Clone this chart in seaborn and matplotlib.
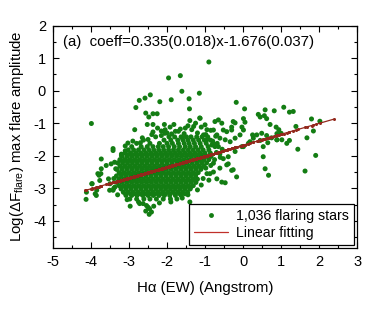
import numpy as np
import pandas as pd
import matplotlib
matplotlib.use("Agg")
import matplotlib.pyplot as plt
from matplotlib.lines import Line2D
import seaborn as sns

# ---------------- data ----------------
# dense core, row by row: one y level per row, x positions per row
core_row_y = [-1.42, -1.52, -1.62, -1.72, -1.82, -1.92, -2.02, -2.12, -2.22, -2.32,
              -2.42, -2.52, -2.62, -2.72, -2.82, -2.92, -3.02, -3.12, -3.22, -3.33,
              -1.97, -2.17, -2.37, -2.57, -2.77, -2.97, -3.17]
core_row_x = [
    [-2.30, -1.95, -1.80, -1.63, -1.49, -1.37, -1.22, -1.08, -0.93],
    [-2.62, -2.08, -1.90, -1.72, -1.58, -1.45, -1.31, -1.17, -1.02, -0.86],
    [-2.80, -2.45, -2.20, -2.00, -1.86, -1.70, -1.55, -1.42, -1.28, -1.13, -0.97, -0.79],
    [-2.93, -2.68, -2.52, -2.37, -2.23, -2.10, -1.96, -1.81, -1.67, -1.52, -1.39, -1.25, -1.10, -0.92, -0.74],
    [-3.02, -2.88, -2.75, -2.61, -2.48, -2.35, -2.22, -2.09, -1.96, -1.83, -1.70, -1.57, -1.44, -1.31, -1.18, -1.05, -0.90],
    [-3.10, -2.96, -2.82, -2.69, -2.56, -2.43, -2.30, -2.17, -2.04, -1.91, -1.78, -1.65, -1.52, -1.39, -1.26, -1.13, -1.00, -0.86],
    [-3.18, -3.05, -2.92, -2.79, -2.66, -2.53, -2.40, -2.27, -2.14, -2.01, -1.88, -1.75, -1.62, -1.49, -1.36, -1.23, -1.10, -0.97, -0.84],
    [-3.24, -3.11, -2.98, -2.85, -2.72, -2.59, -2.46, -2.33, -2.20, -2.07, -1.94, -1.81, -1.68, -1.55, -1.42, -1.29, -1.16, -1.03, -0.90],
    [-3.30, -3.17, -3.04, -2.91, -2.78, -2.65, -2.52, -2.39, -2.26, -2.13, -2.00, -1.87, -1.74, -1.61, -1.48, -1.35, -1.22, -1.09, -0.96],
    [-3.24, -3.11, -2.98, -2.85, -2.72, -2.59, -2.46, -2.33, -2.20, -2.07, -1.94, -1.81, -1.68, -1.55, -1.42, -1.29, -1.16, -1.03],
    [-3.32, -3.19, -3.06, -2.93, -2.80, -2.67, -2.54, -2.41, -2.28, -2.15, -2.02, -1.89, -1.76, -1.63, -1.50, -1.37, -1.24, -1.11],
    [-3.26, -3.13, -3.00, -2.87, -2.74, -2.61, -2.48, -2.35, -2.22, -2.09, -1.96, -1.83, -1.70, -1.57, -1.44, -1.31, -1.18],
    [-3.33, -3.20, -3.07, -2.94, -2.81, -2.68, -2.55, -2.42, -2.29, -2.16, -2.03, -1.90, -1.77, -1.64, -1.51, -1.38, -1.25],
    [-3.27, -3.14, -3.01, -2.88, -2.75, -2.62, -2.49, -2.36, -2.23, -2.10, -1.97, -1.84, -1.71, -1.58, -1.45, -1.32, -1.20],
    [-3.32, -3.19, -3.06, -2.93, -2.80, -2.67, -2.54, -2.41, -2.28, -2.15, -2.02, -1.89, -1.76, -1.63, -1.50, -1.37, -1.24],
    [-3.26, -3.13, -3.00, -2.87, -2.74, -2.61, -2.48, -2.35, -2.22, -2.09, -1.96, -1.83, -1.70, -1.57, -1.44, -1.31],
    [-3.21, -3.08, -2.95, -2.82, -2.69, -2.56, -2.43, -2.30, -2.17, -2.04, -1.91, -1.78, -1.65, -1.52, -1.39],
    [-3.15, -3.02, -2.89, -2.76, -2.63, -2.50, -2.37, -2.24, -2.11, -1.98, -1.85, -1.72, -1.59, -1.46],
    [-3.08, -2.93, -2.79, -2.64, -2.50, -2.36, -2.21, -2.07, -1.93, -1.78, -1.63],
    [-2.98, -2.80, -2.61, -2.45, -2.28, -2.10, -1.91, -1.74],
    [-3.03, -2.90, -2.77, -2.64, -2.51, -2.38, -2.25, -2.12, -1.99, -1.86, -1.73, -1.60, -1.47, -1.34, -1.21, -1.08],
    [-3.17, -3.04, -2.91, -2.78, -2.65, -2.52, -2.39, -2.26, -2.13, -2.00, -1.87, -1.74, -1.61, -1.48, -1.35, -1.22, -1.09],
    [-3.18, -3.05, -2.92, -2.79, -2.66, -2.53, -2.40, -2.27, -2.14, -2.01, -1.88, -1.75, -1.62, -1.49, -1.36, -1.23, -1.10],
    [-3.20, -3.07, -2.94, -2.81, -2.68, -2.55, -2.42, -2.29, -2.16, -2.03, -1.90, -1.77, -1.64, -1.51, -1.38, -1.25],
    [-3.21, -3.08, -2.95, -2.82, -2.69, -2.56, -2.43, -2.30, -2.17, -2.04, -1.91, -1.78, -1.65, -1.52, -1.39, -1.26],
    [-3.20, -3.07, -2.94, -2.81, -2.68, -2.55, -2.42, -2.29, -2.16, -2.03, -1.90, -1.77, -1.64, -1.51, -1.38],
    [-3.09, -2.96, -2.83, -2.70, -2.57, -2.44, -2.31, -2.18, -2.05, -1.92, -1.79, -1.66, -1.53],
]

# scattered stars outside the dense core
halo_x = [-3.99, -1.96, -1.65, -1.61, -1.15, -0.90, -2.44, -2.58, -2.73, -2.19,
          -1.89, -1.42, -2.82, -1.41, -2.56, -2.37, -2.26, -2.48, -1.14, -1.40,
          -2.37, -2.52, -2.07, -1.82, -2.85, -2.37, -2.15, -2.06, -3.03, -3.42,
          -0.18, 0.04, 0.40, 0.58, 0.82, 1.07, 1.32, 1.22, 1.80, 2.02,
          1.39, 1.85, 1.44, 1.91, 1.63, 0.58, 0.67, -0.17, 0.45, 0.56,
          0.62, 0.71, 0.87, 0.94, 1.00, 0.89, 1.68, 1.02, 1.22, 0.01,
          0.05, -0.03, -0.21, -0.30, 0.25, 0.36, 0.49, 0.62, 0.75, 0.89,
          0.45, 0.65, -4.13, -3.74, -3.79, -3.98, -3.85, -3.89, -3.50, -3.54,
          -3.37, -4.12, -3.97, -3.86, -3.77, -3.73, -3.82, -3.60, -3.38, -3.47,
          -3.42, -3.73, -3.51, -3.42, -2.63, -2.54, -2.46, -2.41, -2.47, -2.56,
          -2.50, -2.97, -2.72, -1.40, -0.87, -0.69, -0.56, -0.47, -0.30, -0.39,
          -0.52, -0.61, -0.78, -0.98, -1.13, -1.00, -0.74, -0.65, -0.56, -0.52,
          -0.43, -0.30, -0.26, -0.78, -0.69, -0.61, -0.47, -0.34, -1.04, -0.96,
          -0.82, -0.65, 0.01, 0.18, 0.27, -0.21, -0.08, 0.01, -0.78, -0.61,
          -0.43, -0.26, -0.39, -0.21, -0.03, 0.14, 0.53, 0.89, 1.15, 0.53,
          -1.70, -1.52, -1.30, -2.00, -2.65, -2.90, -3.20, -3.10, -1.25, -0.95,
          -2.25, -2.05, -1.92, -1.78, -1.65, -1.55, -1.45, -1.35, -1.20, -1.10,
          -0.98, -0.85, -0.72, -2.40, -2.15, -1.88, -1.60, -0.80, -0.68, -0.55,
          -0.70, -0.60, -0.75, -0.85, -0.95, -1.05, -1.10, -0.90, -1.20, -2.50,
          -2.70, -3.10, -3.20, -3.35, -3.40, -3.40, -3.30, -3.05, -2.75, -2.20,
          -1.90, -1.60, -1.45, -2.35]
halo_y = [-1.01, 0.39, 0.46, -0.02, -0.08, 0.88, -0.13, -0.23, -0.30, -0.34,
          -0.28, -0.25, -0.52, -0.56, -0.69, -0.71, -0.71, -0.81, -0.84, -0.92,
          -1.04, -1.04, -1.04, -1.04, -1.20, -1.27, -1.24, -1.31, -1.61, -1.78,
          -0.36, -0.56, -0.73, -0.59, -0.62, -0.51, -0.64, -0.66, -0.87, -0.94,
          -1.10, -1.24, -1.80, -1.99, -2.47, -2.40, -2.60, -2.65, -0.81, -0.77,
          -0.86, -1.04, -1.12, -1.20, -1.31, -1.32, -1.45, -1.51, -1.53, -0.86,
          -0.97, -1.12, -0.99, -1.12, -1.36, -1.36, -1.31, -1.38, -1.45, -1.51,
          -1.53, -1.60, -3.34, -2.55, -2.60, -2.86, -3.06, -3.17, -2.86, -2.71,
          -2.96, -3.12, -2.86, -3.22, -2.76, -2.40, -2.55, -2.30, -2.20, -2.25,
          -1.84, -2.10, -3.06, -3.06, -3.47, -3.53, -3.63, -3.73, -3.80, -3.70,
          -3.58, -3.55, -3.47, -3.42, -2.55, -2.71, -2.81, -2.83, -2.45, -2.25,
          -2.09, -1.94, -2.50, -2.38, -0.85, -1.05, -0.95, -0.90, -1.00, -1.21,
          -1.26, -1.21, -0.95, -1.21, -1.36, -1.46, -1.51, -1.57, -1.36, -1.51,
          -1.67, -1.72, -1.72, -1.57, -1.46, -1.46, -1.36, -1.21, -2.23, -2.38,
          -2.28, -2.43, -2.03, -1.87, -1.72, -1.62, -1.72, -1.51, -1.62, -2.03,
          -1.25, -1.15, -1.10, -1.30, -1.45, -1.55, -1.95, -1.70, -1.00, -1.20,
          -1.15, -1.20, -1.12, -1.25, -1.18, -1.32, -1.08, -1.20, -1.30, -1.12,
          -1.35, -1.22, -1.40, -1.35, -1.38, -1.33, -1.45, -1.55, -1.62, -1.80,
          -1.90, -2.05, -2.12, -2.30, -2.55, -2.70, -2.90, -2.75, -3.05, -1.50,
          -1.60, -1.85, -2.00, -2.40, -2.70, -3.00, -3.20, -3.35, -3.42, -3.45,
          -3.42, -3.30, -3.20, -3.55]

# linear fit reported in the panel
fit_slope = 0.335
fit_intercept = -1.676
fit_x_range = [-4.15, 2.38]

xticks = [-5, -4, -3, -2, -1, 0, 1, 2, 3]
yticks = [-4, -3, -2, -1, 0, 1, 2]

panel_text = "(a)  coeff=0.335(0.018)x-1.676(0.037)"
scatter_label = "1,036 flaring stars"
line_label = "Linear fitting"
xlabel = "H\u03b1 (EW) (Angstrom)"
ylabel = "Log(\u0394F$_{\\rm flare}$) max flare amplitude"

GREEN = "#137d13"
RED_LINE = "#93281c"
RED_LEG = "#c0302a"

# ---------------- assemble ----------------
xs, ys = [], []
for yv, row in zip(core_row_y, core_row_x):
    xs.extend(row)
    ys.extend([yv] * len(row))
xs.extend(halo_x)
ys.extend(halo_y)
df = pd.DataFrame({"x": xs, "y": ys})

fit_df = df[(df.x >= fit_x_range[0]) & (df.x <= fit_x_range[1])].copy()
fit_df = pd.concat([fit_df, pd.DataFrame({"x": fit_x_range, "y": [0, 0]})])
fit_df["fit"] = fit_slope * fit_df["x"] + fit_intercept
fit_df = fit_df.sort_values("x")

# ---------------- style ----------------
sns.set_theme(style="ticks")
plt.rcParams["font.family"] = ["Liberation Sans", "DejaVu Sans"]
plt.rcParams["mathtext.fontset"] = "custom"
plt.rcParams["mathtext.rm"] = "Liberation Sans"
plt.rcParams["mathtext.it"] = "Liberation Sans:italic"
plt.rcParams["axes.unicode_minus"] = False
plt.rcParams["text.color"] = "black"
plt.rcParams["axes.labelcolor"] = "black"
plt.rcParams["xtick.color"] = "black"
plt.rcParams["ytick.color"] = "black"

fig = plt.figure(figsize=(3.84, 3.19), dpi=100)
ax = fig.add_axes([0.138, 0.223, 0.792, 0.697])

sns.scatterplot(data=df, x="x", y="y", ax=ax, color=GREEN, s=13, marker="o",
                edgecolor="none", linewidth=0, legend=False, zorder=2)
sns.lineplot(data=fit_df, x="x", y="fit", ax=ax, color=RED_LINE, lw=0.9,
             marker="o", markersize=2.2, markeredgewidth=0, estimator=None,
             sort=True, legend=False, zorder=3)

ax.set_xlim(-5, 3)
ax.set_ylim(-4.83, 2)
ax.set_xticks(xticks)
ax.set_yticks(yticks)
ax.set_xticklabels([str(t) for t in xticks])
ax.set_yticklabels([str(t) for t in yticks])
ax.set_xticks(np.array(xticks[:-1]) + 0.5, minor=True)
ax.set_yticks([-4.5, -3.5, -2.5, -1.5, -0.5, 0.5, 1.5], minor=True)
ax.tick_params(which="both", direction="in", top=True, right=True, width=0.8,
               labelsize=10.5, pad=5)
ax.tick_params(which="major", length=4.5)
ax.tick_params(which="minor", length=2.5)
for s in ax.spines.values():
    s.set_color("black")
    s.set_linewidth(0.9)

ax.set_xlabel(xlabel, fontsize=10.8, labelpad=9)
ax.set_ylabel(ylabel, fontsize=10.8, labelpad=5)

ax.text(0.033, 0.926, panel_text, transform=ax.transAxes, fontsize=10.8,
        ha="left", va="center")

handles = [
    Line2D([], [], ls="none", marker="o", markersize=3.5, color=GREEN, markeredgewidth=0),
    Line2D([], [], color=RED_LEG, lw=0.9),
]
leg = ax.legend(handles, [scatter_label, line_label], loc="lower right",
                bbox_to_anchor=(0.99, 0.012), fontsize=10.2, frameon=True,
                fancybox=False, framealpha=1, edgecolor="black",
                borderpad=0.35, handlelength=2.4, handletextpad=0.6,
                labelspacing=0.25, borderaxespad=0)
leg.get_frame().set_linewidth(0.9)

fig.savefig("out.png", dpi=100, facecolor="white")
